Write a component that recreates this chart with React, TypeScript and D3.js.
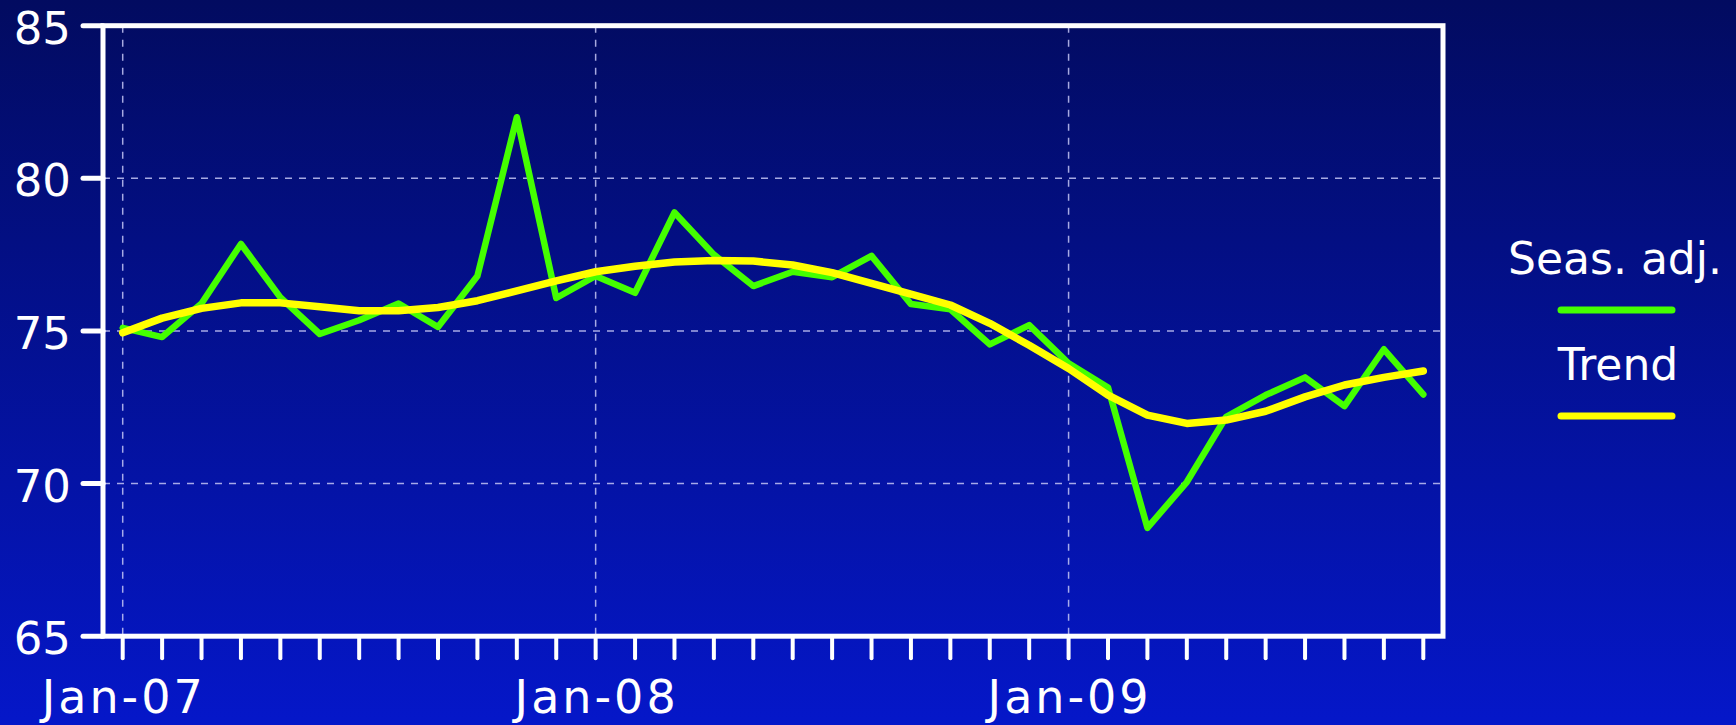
import React from "react";
import * as d3 from "d3";

const months = [
  "Jan-07","Feb-07","Mar-07","Apr-07","May-07","Jun-07","Jul-07","Aug-07","Sep-07","Oct-07","Nov-07","Dec-07",
  "Jan-08","Feb-08","Mar-08","Apr-08","May-08","Jun-08","Jul-08","Aug-08","Sep-08","Oct-08","Nov-08","Dec-08",
  "Jan-09","Feb-09","Mar-09","Apr-09","May-09","Jun-09","Jul-09","Aug-09","Sep-09","Oct-09",
];

const seasAdj = [
  75.1, 74.8, 75.9, 77.85, 76.1, 74.9, 75.35, 75.9, 75.13, 76.8, 82.0, 76.08,
  76.8, 76.25, 78.88, 77.5, 76.47, 76.94, 76.76, 77.46, 75.88, 75.71, 74.56, 75.19,
  73.94, 73.15, 68.55, 70.05, 72.19, 72.9, 73.48, 72.54, 74.4, 72.92,
];

const trend = [
  74.94, 75.42, 75.74, 75.92, 75.92, 75.79, 75.66, 75.66, 75.77, 75.99, 76.31, 76.64,
  76.94, 77.12, 77.26, 77.31, 77.29, 77.16, 76.91, 76.56, 76.21, 75.85, 75.25, 74.53,
  73.77, 72.9, 72.24, 71.97, 72.08, 72.37, 72.84, 73.23, 73.48, 73.69,
];

const yTicks = [65, 70, 75, 80, 85];
const yGrid = [70, 75, 80];
const xLabels = ["Jan-07", "Jan-08", "Jan-09"];
const seriesNames = ["Seas. adj.", "Trend"];

const W = 1736;
const H = 725;
const FONT = "'DejaVu Sans', Verdana, sans-serif";

export default function App() {
  const x = d3.scaleBand<string>().domain(months).range([103, 1443]).padding(0);
  const cx = (m: string) => (x(m) as number) + x.bandwidth() / 2;
  const y = d3.scaleLinear().domain([65, 85]).range([636.2, 25.7]);

  const line = d3
    .line<number>()
    .x((_, i) => cx(months[i]))
    .y((v) => y(v));

  const [x0, x1] = x.range();
  const [yb, yt] = [y(65), y(85)];

  return (
    <svg
      width={W}
      height={H}
      style={{ position: "absolute", left: 0, top: 0, display: "block" }}
      fontFamily={FONT}
    >
      <defs>
        <linearGradient id="bg" x1="0" y1="0" x2="0" y2="1">
          <stop offset="0" stopColor="#020b60" />
          <stop offset="1" stopColor="#0517c9" />
        </linearGradient>
      </defs>
      <rect x={0} y={0} width={W} height={H} fill="url(#bg)" />

      {/* grid */}
      <g stroke="#c4c6f4" strokeOpacity={0.85} strokeWidth={1.5} strokeDasharray="7,7">
        {yGrid.map((v) => (
          <line key={"gy" + v} x1={x0} x2={x1} y1={y(v)} y2={y(v)} />
        ))}
        {xLabels.map((m) => (
          <line key={"gx" + m} x1={cx(m)} x2={cx(m)} y1={yt} y2={yb} />
        ))}
      </g>

      {/* series */}
      <path d={line(seasAdj) || ""} fill="none" stroke="#44ff00" strokeWidth={6.5} strokeLinejoin="round" strokeLinecap="round" />
      <path d={line(trend) || ""} fill="none" stroke="#ffff00" strokeWidth={7.5} strokeLinejoin="round" strokeLinecap="round" />

      {/* frame */}
      <rect x={x0} y={yt} width={x1 - x0} height={yb - yt} fill="none" stroke="#ffffff" strokeWidth={5} />

      {/* y ticks */}
      <g stroke="#ffffff" strokeWidth={5} strokeLinecap="round">
        {yTicks.map((v) => (
          <line key={"yt" + v} x1={x0 - 20} x2={x0} y1={y(v)} y2={y(v)} />
        ))}
      </g>
      <g fill="#ffffff" fontSize={45} textAnchor="end">
        {yTicks.map((v) => (
          <text key={"yl" + v} x={71} y={y(v) + 18}>
            {v}
          </text>
        ))}
      </g>

      {/* x ticks */}
      <g stroke="#ffffff" strokeWidth={4} strokeLinecap="round">
        {months.map((m) => (
          <line key={"xt" + m} x1={cx(m)} x2={cx(m)} y1={yb} y2={yb + 22} />
        ))}
      </g>
      <g fill="#ffffff" fontSize={46} textAnchor="middle" letterSpacing={3}>
        {xLabels.map((m) => (
          <text key={"xl" + m} x={cx(m) + 1} y={713}>
            {m}
          </text>
        ))}
      </g>

      {/* legend */}
      <g fill="#ffffff" fontSize={44} textAnchor="middle">
        <text x={1615} y={274}>{seriesNames[0]}</text>
        <text x={1618} y={380}>{seriesNames[1]}</text>
      </g>
      <line x1={1561} x2={1672} y1={310} y2={310} stroke="#44ff00" strokeWidth={7} strokeLinecap="round" />
      <line x1={1561} x2={1672} y1={416} y2={416} stroke="#ffff00" strokeWidth={7} strokeLinecap="round" />
    </svg>
  );
}
